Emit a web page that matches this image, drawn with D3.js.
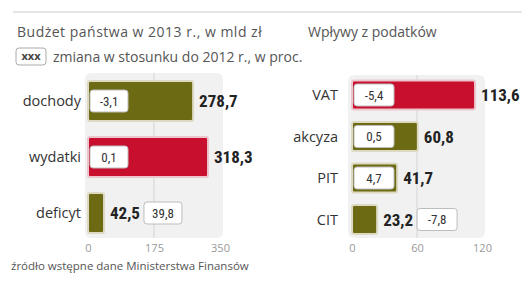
<!DOCTYPE html>
<html>
<head>
<meta charset="utf-8">
<style>
  body { margin: 0; background: #fff; }
  svg { display: block; }
  .lab { font-family: "Open Sans", "Lato", sans-serif; fill: #333; }
  .val { font-family: "Liberation Sans Narrow", "Roboto Condensed", "DejaVu Sans Condensed", sans-serif; font-weight: bold; fill: #222; }
  .tick text { font-family: "Open Sans", sans-serif; fill: #999; }
</style>
</head>
<body>
<svg width="531" height="281"></svg>
<script src="https://d3js.org/d3.v7.min.js"></script>
<script>

// budget 2013, bn zl
var budgetCats = ["dochody", "wydatki", "deficyt"];
var budgetValues = [278.7, 318.3, 42.5];
var budgetChange = [-3.1, 0.1, 39.8];
var budgetRed = [false, true, false];
var budgetTicks = [0, 175, 350];

// tax revenue
var taxCats = ["VAT", "akcyza", "PIT", "CIT"];
var taxValues = [113.6, 60.8, 41.7, 23.2];
var taxChange = [-5.4, 0.5, 4.7, -7.8];
var taxRed = [true, false, false, false];
var taxTicks = [0, 60, 120];

var svg = d3.select("svg");
var fmt = function(v) { return d3.format(".1f")(v).replace("\u2212", "-").replace(".", ","); };

// header
svg.append("line")
    .attr("x1", 13).attr("x2", 522).attr("y1", 12).attr("y2", 12)
    .attr("stroke", "#ccc");

svg.append("text").attr("class", "lab")
    .attr("x", 17).attr("y", 37)
    .attr("font-size", 14).attr("letter-spacing", 0.5).style("fill", "#555")
    .text("Budżet państwa w 2013 r., w mld zł");

svg.append("text").attr("class", "lab")
    .attr("x", 308).attr("y", 37)
    .attr("font-size", 14).style("fill", "#555")
    .text("Wpływy z podatków");

svg.append("rect")
    .attr("x", 16).attr("y", 48).attr("width", 30).attr("height", 17).attr("rx", 3)
    .attr("fill", "#fff").attr("stroke", "#aaa");
svg.append("text").attr("class", "lab")
    .attr("x", 31).attr("y", 60).attr("text-anchor", "middle")
    .attr("font-size", 11).attr("font-weight", "bold").style("fill", "#444")
    .text("xxx");
svg.append("text").attr("class", "lab")
    .attr("x", 53).attr("y", 62)
    .attr("font-size", 14).style("fill", "#555")
    .text("zmiana w stosunku do 2012 r., w proc.");

svg.append("text").attr("class", "lab")
    .attr("x", 11).attr("y", 270)
    .attr("font-size", 11.5).style("fill", "#555")
    .text("źródło wstępne dane Ministerstwa Finansów");

function drawChart(opt) {
  var x = d3.scaleLinear().domain([0, opt.ticks[2]]).range(opt.xr);
  var y = d3.scaleBand().domain(opt.cats).range(opt.yr)
      .paddingInner(opt.pad).paddingOuter(opt.pad / 2);

  var g = svg.append("g");

  // panel
  g.append("rect")
      .attr("x", opt.panel[0]).attr("y", opt.panel[1])
      .attr("width", opt.panel[2] - opt.panel[0]).attr("height", opt.panel[3] - opt.panel[1])
      .attr("rx", 6).attr("fill", "#f1f1f1");

  g.append("line")
      .attr("x1", x(opt.ticks[1])).attr("x2", x(opt.ticks[1]))
      .attr("y1", opt.panel[1]).attr("y2", opt.panel[3])
      .attr("stroke", "#d4d4d4");

  var rows = g.selectAll(".row")
    .data(opt.cats.map(function(c, i) {
      return { cat: c, v: opt.values[i], ch: opt.change[i], red: opt.red[i] };
    }))
    .enter().append("g").attr("class", "row");

  rows.append("rect")
      .attr("x", x(0))
      .attr("y", function(d) { return y(d.cat); })
      .attr("width", function(d) { return x(d.v) - x(0); })
      .attr("height", y.bandwidth())
      .attr("rx", 2)
      .attr("fill", function(d) { return d.red ? "#c8102e" : "#6d6a14"; })
      .attr("stroke", function(d) { return d.red ? "#ecc6cc" : "#ddd9c2"; })
      .attr("stroke-width", 2);

  rows.append("text").attr("class", "lab")
      .attr("x", opt.labX)
      .attr("y", function(d) { return y(d.cat) + y.bandwidth() / 2; })
      .attr("dy", "0.35em")
      .attr("text-anchor", "end")
      .attr("font-size", 14.5)
      .text(function(d) { return d.cat; });

  rows.each(function(d) {
    var row = d3.select(this);
    var cy = y(d.cat) + y.bandwidth() / 2;
    var barW = x(d.v) - x(0);
    var inside = barW >= opt.boxW + 4;

    var val = row.append("text").attr("class", "val")
        .attr("x", x(d.v) + 6)
        .attr("y", cy)
        .attr("dy", "0.36em")
        .attr("font-size", 17)
        .text(fmt(d.v));

    var bx = inside ? x(0) + 2 : x(d.v) + 6 + val.node().getComputedTextLength() + 4;
    row.append("rect")
        .attr("x", bx).attr("y", cy - 11)
        .attr("width", opt.boxW).attr("height", 22)
        .attr("rx", 3)
        .attr("fill", "#fff").attr("stroke", "#bdbdbd");
    row.append("text").attr("class", "val")
        .attr("x", bx + opt.boxW / 2).attr("y", cy)
        .attr("dy", "0.35em").attr("text-anchor", "middle")
        .attr("font-size", 13).style("font-weight", "normal").style("fill", "#333")
        .text(fmt(d.ch));
  });

  var ax = g.append("g")
      .attr("transform", "translate(0," + 238 + ")")
      .call(d3.axisBottom(x).tickValues(opt.ticks).tickSize(0).tickPadding(6));
  ax.select(".domain").remove();
  ax.selectAll("text").attr("font-size", 11);
}

drawChart({
  cats: budgetCats, values: budgetValues, change: budgetChange, red: budgetRed, ticks: budgetTicks,
  xr: [88, 220], yr: [73, 241], pad: 0.29, boxW: 38, labX: 81,
  panel: [85, 73, 223, 238]
});

drawChart({
  cats: taxCats, values: taxValues, change: taxChange, red: taxRed, ticks: taxTicks,
  xr: [352, 482], yr: [74.25, 240.25], pad: 0.3, boxW: 40, labX: 338,
  panel: [348, 75, 485, 238]
});

</script>
</body>
</html>
